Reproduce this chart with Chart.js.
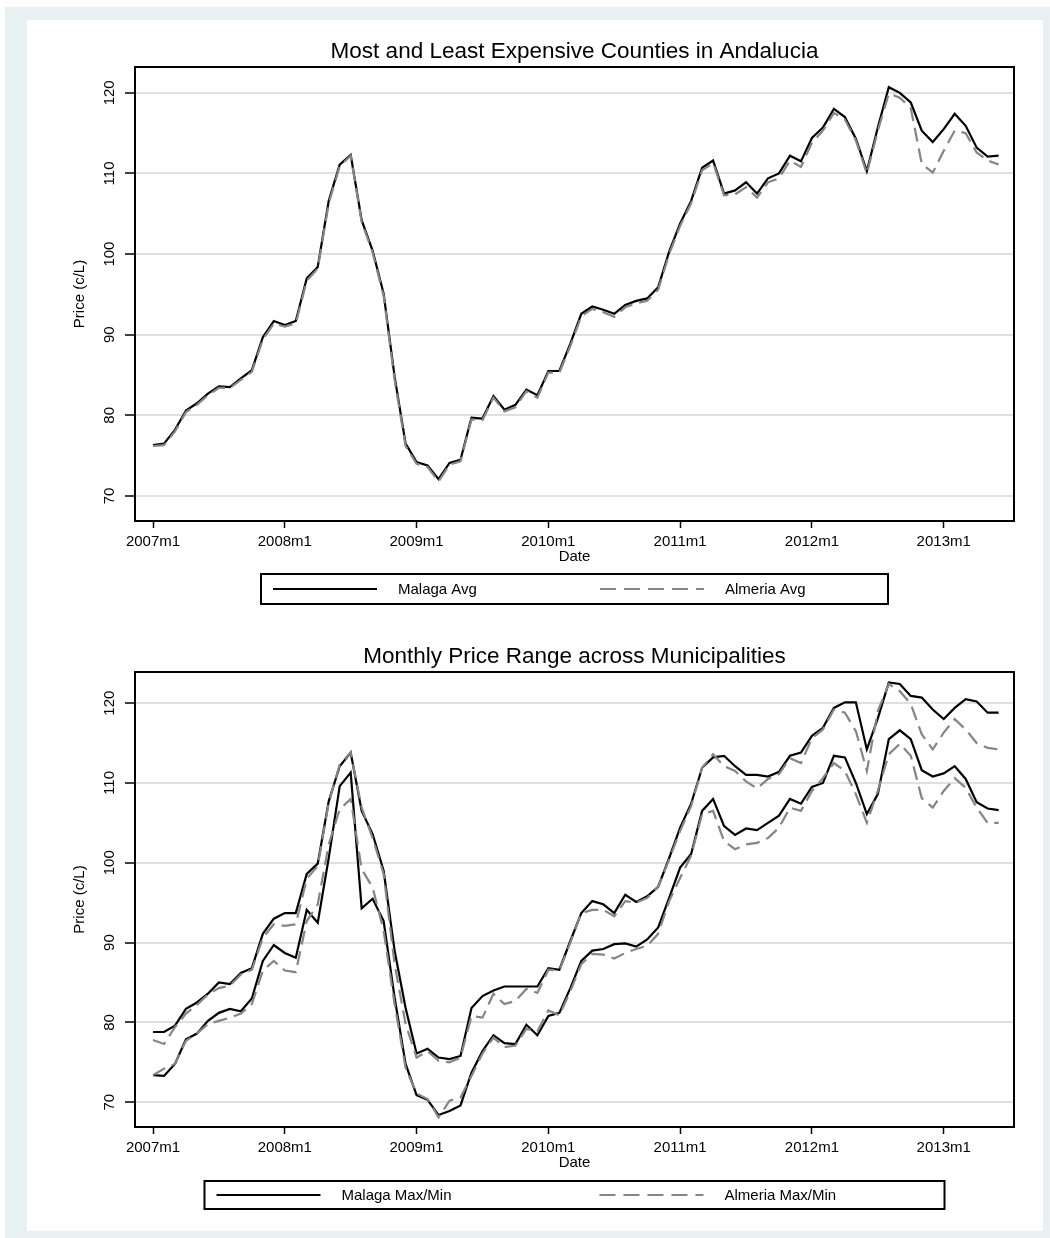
<!DOCTYPE html>
<html>
<head>
<meta charset="utf-8">
<title>Andalucia fuel prices</title>
<script src="https://cdn.jsdelivr.net/npm/chart.js@4.4.0/dist/chart.umd.min.js"></script>
<style>
  body { margin: 0; background: #fff; width: 1050px; height: 1238px; position: relative; overflow: hidden; }
  #outer { position: absolute; left: 5px; top: 7px; width: 1045px; height: 1231px; background: #e8f0f2; }
  #inner { position: absolute; left: 27px; top: 20px; width: 1016px; height: 1211px; background: #fff; }
  canvas { position: absolute; left: 27px; }
  #avgChart { top: 20px; }
  #rangeChart { top: 625px; }
</style>
</head>
<body>
<div id="outer"></div>
<div id="inner"></div>
<canvas id="avgChart" width="1016" height="605"></canvas>
<canvas id="rangeChart" width="1016" height="606"></canvas>
<script>
// monthly data, 2007m1 .. 2013m6 (index 0 = 2007m1)
const tickMonths = [0, 12, 24, 36, 48, 60, 72];
const tickLabels = ['2007m1', '2008m1', '2009m1', '2010m1', '2011m1', '2012m1', '2013m1'];
const yTicks = [70, 80, 90, 100, 110, 120];

const malagaAvg = [
  76.3, 76.5, 78.2, 80.6, 81.5, 82.7, 83.6, 83.5, 84.6, 85.6, 89.7, 91.7,
  91.2, 91.7, 97.0, 98.4, 106.6, 111.1, 112.3, 104.2, 100.4, 95.1, 84.8, 76.5,
  74.2, 73.8, 72.1, 74.1, 74.5, 79.7, 79.6, 82.4, 80.7, 81.3, 83.2, 82.5,
  85.5, 85.5, 88.9, 92.6, 93.5, 93.1, 92.6, 93.7, 94.2, 94.5, 95.9, 100.3,
  103.8, 106.6, 110.7, 111.6, 107.5, 107.9, 108.9, 107.5, 109.4, 110.0, 112.2, 111.5,
  114.4, 115.7, 118.0, 117.0, 114.3, 110.3, 115.7, 120.7, 120.0, 118.8, 115.3, 113.9,
  115.5, 117.4, 115.9, 113.2, 112.1, 112.2
];
const almeriaAvg = [
  76.2, 76.3, 78.0, 80.4, 81.3, 82.5, 83.4, 83.4, 84.4, 85.4, 89.4, 91.4,
  91.0, 91.4, 96.7, 98.2, 106.3, 110.9, 112.2, 104.0, 100.2, 94.8, 84.4, 76.2,
  74.0, 73.6, 71.8, 73.9, 74.3, 79.5, 79.4, 82.2, 80.5, 81.0, 83.0, 82.2,
  85.3, 85.3, 88.6, 92.3, 93.2, 92.8, 92.2, 93.4, 93.9, 94.2, 95.6, 100.0,
  103.5, 106.3, 110.4, 111.3, 107.3, 107.4, 108.3, 107.0, 108.9, 109.4, 111.6, 110.8,
  113.8, 115.3, 117.5, 116.7, 114.1, 110.0, 115.3, 119.9, 119.4, 118.1, 111.2, 110.1,
  112.8, 115.3, 115.0, 112.6, 111.6, 111.1
];

const malagaMax = [
  78.8, 78.8, 79.6, 81.7, 82.5, 83.6, 85.0, 84.8, 86.2, 86.8, 91.1, 93.0,
  93.7, 93.7, 98.6, 99.9, 107.7, 112.1, 113.8, 106.5, 103.6, 99.0, 89.0, 81.8,
  76.1, 76.7, 75.6, 75.4, 75.8, 81.8, 83.3, 84.0, 84.5, 84.5, 84.5, 84.5,
  86.8, 86.6, 90.2, 93.7, 95.2, 94.8, 93.7, 96.0, 95.1, 95.8, 97.0, 100.6,
  104.4, 107.4, 111.9, 113.2, 113.4, 112.1, 111.0, 111.0, 110.8, 111.4, 113.4, 113.8,
  115.9, 116.9, 119.4, 120.1, 120.1, 114.2, 118.1, 122.6, 122.4, 120.9, 120.7, 119.2,
  118.0, 119.4, 120.5, 120.2, 118.8, 118.8
];
const malagaMin = [
  73.4, 73.3, 74.8, 77.9, 78.6, 80.2, 81.2, 81.7, 81.4, 83.0, 87.7, 89.7,
  88.7, 88.1, 94.1, 92.5, 100.6, 109.6, 111.3, 94.3, 95.5, 92.7, 83.1, 74.8,
  70.9, 70.3, 68.4, 68.9, 69.6, 73.7, 76.4, 78.4, 77.4, 77.3, 79.7, 78.4,
  80.8, 81.2, 84.3, 87.7, 89.0, 89.2, 89.8, 89.9, 89.5, 90.4, 91.9, 95.6,
  99.4, 101.1, 106.5, 108.0, 104.6, 103.5, 104.3, 104.1, 105.0, 105.9, 108.0, 107.4,
  109.5, 110.0, 113.4, 113.2, 110.0, 106.1, 108.6, 115.5, 116.6, 115.5, 111.6, 110.8,
  111.2, 112.1, 110.5, 107.6, 106.8, 106.6
];
const almeriaMax = [
  77.8, 77.3, 79.4, 81.1, 82.2, 83.5, 84.3, 84.6, 86.0, 86.6, 90.6, 92.3,
  92.1, 92.3, 98.0, 99.6, 107.5, 112.3, 113.8, 106.9, 103.1, 98.6, 87.3, 79.8,
  75.6, 76.4, 75.2, 75.0, 75.6, 80.8, 80.6, 83.6, 82.3, 82.7, 84.2, 83.7,
  86.6, 86.5, 90.0, 93.7, 94.1, 94.1, 93.3, 95.2, 95.0, 95.6, 97.0, 100.4,
  104.0, 107.1, 111.9, 113.6, 112.1, 111.5, 110.2, 109.3, 110.5, 111.1, 113.1, 112.5,
  115.6, 116.7, 119.2, 118.8, 116.5, 111.5, 119.0, 122.4, 121.5, 119.9, 116.1, 114.2,
  116.3, 118.0, 116.7, 115.0, 114.4, 114.2
];
const almeriaMin = [
  73.4, 74.2, 74.8, 77.7, 78.6, 79.8, 80.2, 80.6, 81.1, 82.3, 86.5, 87.7,
  86.5, 86.3, 92.7, 94.8, 102.3, 106.7, 108.0, 99.2, 96.9, 91.5, 82.3, 74.3,
  71.1, 70.4, 68.1, 70.2, 70.6, 73.3, 76.1, 78.1, 76.9, 77.1, 79.2, 78.9,
  81.5, 80.9, 83.9, 87.3, 88.6, 88.5, 88.0, 88.7, 89.2, 89.6, 91.1, 95.2,
  98.1, 100.9, 106.1, 106.5, 102.7, 101.7, 102.3, 102.5, 103.1, 104.4, 106.9, 106.5,
  109.0, 110.6, 112.5, 111.5, 108.6, 105.0, 109.0, 113.6, 114.9, 113.4, 108.1, 106.9,
  109.0, 110.6, 109.4, 106.9, 105.0, 105.0
];

const BLACK = '#000000';
const GRAY = '#858585';
const DASH = [14, 7];
const FONT = '"Liberation Sans", Arial, sans-serif';

Chart.defaults.font.family = FONT;
Chart.defaults.color = '#000';

function toPoints(values) {
  return values.map((v, i) => ({ x: i, y: v }));
}

function lineSet(label, values, color, dash, order) {
  return {
    label: label,
    data: toPoints(values),
    borderColor: color,
    borderWidth: 2.2,
    borderDash: dash,
    pointRadius: 0,
    tension: 0,
    fill: false,
    order: order
  };
}

// black frame around the plot region
const plotFrame = {
  id: 'plotFrame',
  afterDatasetsDraw(chart) {
    const { ctx, chartArea: a } = chart;
    ctx.save();
    ctx.strokeStyle = '#000';
    ctx.lineWidth = 2;
    ctx.strokeRect(a.left, a.top, a.right - a.left, a.bottom - a.top);
    ctx.restore();
  }
};

// boxed legend under the axis title, as in the original
const boxLegend = {
  id: 'boxLegend',
  afterDraw(chart, args, opts) {
    const { ctx, chartArea: a } = chart;
    const cx = (a.left + a.right) / 2;
    const left = cx - opts.width / 2;
    const top = a.bottom + opts.offsetY;
    const midY = top + opts.height / 2;
    ctx.save();
    ctx.strokeStyle = '#000';
    ctx.lineWidth = 2;
    ctx.strokeRect(left, top, opts.width, opts.height);
    ctx.font = '15px ' + FONT;
    ctx.textBaseline = 'middle';
    ctx.textAlign = 'left';
    opts.items.forEach((item, k) => {
      const x = left + opts.itemX[k];
      ctx.beginPath();
      ctx.setLineDash(item.dash);
      ctx.strokeStyle = item.color;
      ctx.lineWidth = 2.2;
      ctx.moveTo(x, midY);
      ctx.lineTo(x + 104, midY);
      ctx.stroke();
      ctx.setLineDash([]);
      ctx.fillStyle = '#000';
      ctx.fillText(item.text, x + 125, midY + 1);
    });
    ctx.restore();
  }
};

function makeChart(canvasId, titleText, datasets, yMax, legendOpts) {
  return new Chart(document.getElementById(canvasId), {
    type: 'line',
    data: { datasets: datasets },
    plugins: [plotFrame, boxLegend],
    options: {
      responsive: false,
      animation: false,
      devicePixelRatio: 1,
      layout: { padding: { top: 10, right: 29, bottom: 59, left: 0 } },
      plugins: {
        legend: { display: false },
        tooltip: { enabled: false },
        title: {
          display: true,
          text: titleText,
          fullSize: false,
          color: '#000',
          font: { size: 22.5, weight: 'normal' },
          padding: { top: 8, bottom: 2 }
        },
        boxLegend: legendOpts
      },
      scales: {
        x: {
          type: 'linear',
          min: -1.64,
          max: 78.4,
          afterBuildTicks: s => { s.ticks = tickMonths.map(v => ({ value: v })); },
          afterFit: s => { s.height = 45; },
          ticks: {
            autoSkip: false,
            maxRotation: 0,
            padding: 5,
            color: '#000',
            font: { size: 15 },
            callback: v => tickLabels[tickMonths.indexOf(v)]
          },
          grid: {
            drawOnChartArea: false,
            drawTicks: true,
            tickLength: 7,
            tickColor: '#000',
            tickWidth: 1.5
          },
          border: { display: true, color: '#000', width: 2 },
          title: {
            display: true,
            text: 'Date',
            color: '#000',
            font: { size: 15 },
            padding: { top: 0, bottom: 0 }
          }
        },
        y: {
          min: 66.9,
          max: yMax,
          afterBuildTicks: s => { s.ticks = yTicks.map(v => ({ value: v })); },
          afterFit: s => { s.width = 108; },
          ticks: {
            minRotation: 90,
            maxRotation: 90,
            crossAlign: 'center',
            padding: 3,
            color: '#000',
            font: { size: 15 }
          },
          grid: {
            color: '#e0e0e0',
            lineWidth: 2,
            drawTicks: true,
            tickLength: 10,
            tickColor: '#000',
            tickWidth: 1.5
          },
          border: { display: true, color: '#000', width: 2 },
          title: {
            display: true,
            text: 'Price (c/L)',
            color: '#000',
            font: { size: 15 },
            padding: { top: 44, bottom: 0 }
          }
        }
      }
    }
  });
}

makeChart('avgChart', 'Most and Least Expensive Counties in Andalucia', [
  lineSet('Malaga Avg', malagaAvg, BLACK, [], 2),
  lineSet('Almeria Avg', almeriaAvg, GRAY, DASH, 1)
], 123.2, {
  width: 627, height: 30, offsetY: 53, itemX: [12, 339],
  items: [
    { text: 'Malaga Avg', color: BLACK, dash: [] },
    { text: 'Almeria Avg', color: GRAY, dash: [16, 8, 16, 8, 16, 8, 16, 8, 9, 100] }
  ]
});

makeChart('rangeChart', 'Monthly Price Range across Municipalities', [
  lineSet('Malaga Max', malagaMax, BLACK, [], 2),
  lineSet('Malaga Min', malagaMin, BLACK, [], 2),
  lineSet('Almeria Max', almeriaMax, GRAY, DASH, 1),
  lineSet('Almeria Min', almeriaMin, GRAY, DASH, 1)
], 123.9, {
  width: 740, height: 28, offsetY: 54, itemX: [12, 395],
  items: [
    { text: 'Malaga Max/Min', color: BLACK, dash: [] },
    { text: 'Almeria Max/Min', color: GRAY, dash: [16, 8, 16, 8, 16, 8, 16, 8, 9, 100] }
  ]
});
</script>
</body>
</html>
